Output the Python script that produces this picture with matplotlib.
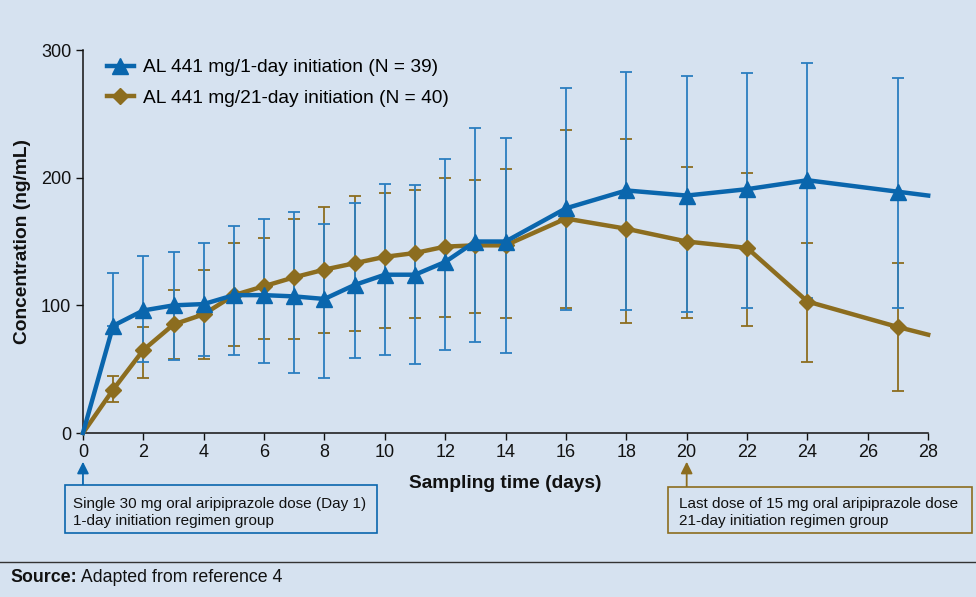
import matplotlib.pyplot as plt
from matplotlib import font_manager
from matplotlib.patches import Rectangle
from matplotlib.lines import Line2D
import numpy as np

# --- data -------------------------------------------------------------
days = [0, 1, 2, 3, 4, 5, 6, 7, 8, 9, 10, 11, 12, 13, 14, 16, 18, 20, 22, 24, 27, 28]

blue_mean = [0, 84, 96, 100, 101, 108, 108, 107, 105, 116, 124, 124, 134, 150, 150,
             176, 190, 186, 191, 198, 189, 186]
blue_upper = [None, 125, 139, 142, 149, 162, 168, 173, 164, 180, 195, 194, 215, 239, 231,
              270, 283, 280, 282, 290, 278, None]
blue_lower = [None, 84, 56, 57, 60, 61, 55, 47, 43, 59, 61, 54, 65, 71, 63,
              96, 96, 95, 98, 106, 98, None]

gold_mean = [0, 34, 65, 85, 93, 108, 115, 122, 128, 133, 138, 141, 146, 147, 147,
             168, 160, 150, 145, 103, 83, 77]
gold_upper = [None, 45, 83, 112, 128, 149, 153, 168, 177, 186, 188, 190, 200, 198, 207,
              237, 230, 208, 204, 149, 133, None]
gold_lower = [None, 24, 43, 58, 58, 68, 74, 74, 78, 80, 82, 90, 91, 94, 90,
              98, 86, 90, 84, 56, 33, None]

series_labels = ["AL 441 mg/1-day initiation (N = 39)", "AL 441 mg/21-day initiation (N = 40)"]
x_ticks = list(range(0, 29, 2))
y_ticks = [0, 100, 200, 300]
note_1 = "Single 30 mg oral aripiprazole dose (Day 1)\n1-day initiation regimen group"
note_2 = "Last dose of 15 mg oral aripiprazole dose\n21-day initiation regimen group"
note_days = [0, 20]

# --- style ------------------------------------------------------------
BG = "#d6e2f0"
BLUE = "#0a66ad"
BLUE_ERR = "#2b7ec0"
GOLD = "#8c6d1f"
INK = "#111111"

plt.rcParams["font.family"] = ["Liberation Sans", "DejaVu Sans"]


def err_arrays(mean, upper, lower):
    x, m, lo, hi = [], [], [], []
    for d, mv, u, l in zip(days, mean, upper, lower):
        if u is None:
            continue
        x.append(d)
        m.append(mv)
        hi.append(u - mv)
        lo.append(mv - l)
    return np.array(x), np.array(m), np.array([lo, hi])


fig = plt.figure(figsize=(9.76, 5.97), dpi=100, facecolor=BG)
ax = fig.add_axes([0.085, 0.2747, 0.866, 0.6415], facecolor=BG)

# error bars first, lines on top
for mean, upper, lower, col in [(gold_mean, gold_upper, gold_lower, GOLD),
                                (blue_mean, blue_upper, blue_lower, BLUE_ERR)]:
    x, m, yerr = err_arrays(mean, upper, lower)
    ax.errorbar(x, m, yerr=yerr, fmt="none", ecolor=col, elinewidth=1.3,
                capsize=4, capthick=1.3, zorder=2)

marker_idx = list(range(1, len(days) - 1))
ax.plot(days, gold_mean, color=GOLD, linewidth=3.2, marker="D", markersize=8.5,
        markevery=marker_idx, clip_on=False, zorder=3)
ax.plot(days, blue_mean, color=BLUE, linewidth=3.2, marker="^", markersize=11,
        markevery=marker_idx, clip_on=False, zorder=4)

ax.set_xlim(0, 28)
ax.set_ylim(0, 300)
ax.set_xticks(x_ticks)
ax.set_yticks(y_ticks)
ax.tick_params(axis="both", labelsize=13, length=5, width=1, color=INK,
               labelcolor=INK, direction="out")
ax.tick_params(axis="x", pad=3)
for side in ("top", "right"):
    ax.spines[side].set_visible(False)
for side in ("left", "bottom"):
    ax.spines[side].set_linewidth(1.1)
    ax.spines[side].set_color(INK)

ax.set_xlabel("Sampling time (days)", fontsize=13.8, fontweight="bold", labelpad=10, color=INK)
ax.set_ylabel("Concentration (ng/mL)", fontsize=13.8, fontweight="bold", labelpad=7, color=INK)

handles = [Line2D([], [], color=BLUE, linewidth=3.2, marker="^", markersize=11),
           Line2D([], [], color=GOLD, linewidth=3.2, marker="D", markersize=8.5)]
ax.legend(handles, series_labels, loc="upper left", bbox_to_anchor=(0.008, 1.022),
          frameon=False, fontsize=13.8, handlelength=1.4, handletextpad=0.5,
          labelspacing=0.68)

# arrows from notes up to the x axis
for d, col in zip(note_days, [BLUE, GOLD]):
    ax.annotate("", xy=(d, -0.075), xytext=(d, -0.142),
                xycoords=("data", "axes fraction"), textcoords=("data", "axes fraction"),
                arrowprops=dict(arrowstyle="-|>,head_length=0.7,head_width=0.35",
                                color=col, lw=1.3, shrinkA=0, shrinkB=0),
                annotation_clip=False)

# note boxes
fig.patches.append(Rectangle((0.0666, 0.1072), 0.3197, 0.0804, transform=fig.transFigure,
                             facecolor=BG, edgecolor=BLUE, linewidth=1.2))
fig.patches.append(Rectangle((0.6844, 0.1072), 0.3115, 0.0770, transform=fig.transFigure,
                             facecolor=BG, edgecolor=GOLD, linewidth=1.2))
fig.text(0.0748, 0.1420, note_1, fontsize=11, va="center", ha="left",
         color=INK, linespacing=1.3)
fig.text(0.6955, 0.1410, note_2, fontsize=11, va="center", ha="left",
         color=INK, linespacing=1.3)

# footer
fig.add_artist(Line2D([0, 1], [0.0586, 0.0586], transform=fig.transFigure,
                      color="#333333", linewidth=1.0))
src = fig.text(0.0103, 0.032, "Source:", fontsize=12.8, fontweight="bold", va="center", color=INK)
ax.annotate(" Adapted from reference 4", xy=(1, 0.5), xycoords=src, va="center",
            fontsize=12.8, color=INK, annotation_clip=False)

fig.savefig("out.png", dpi=100, facecolor=BG)
